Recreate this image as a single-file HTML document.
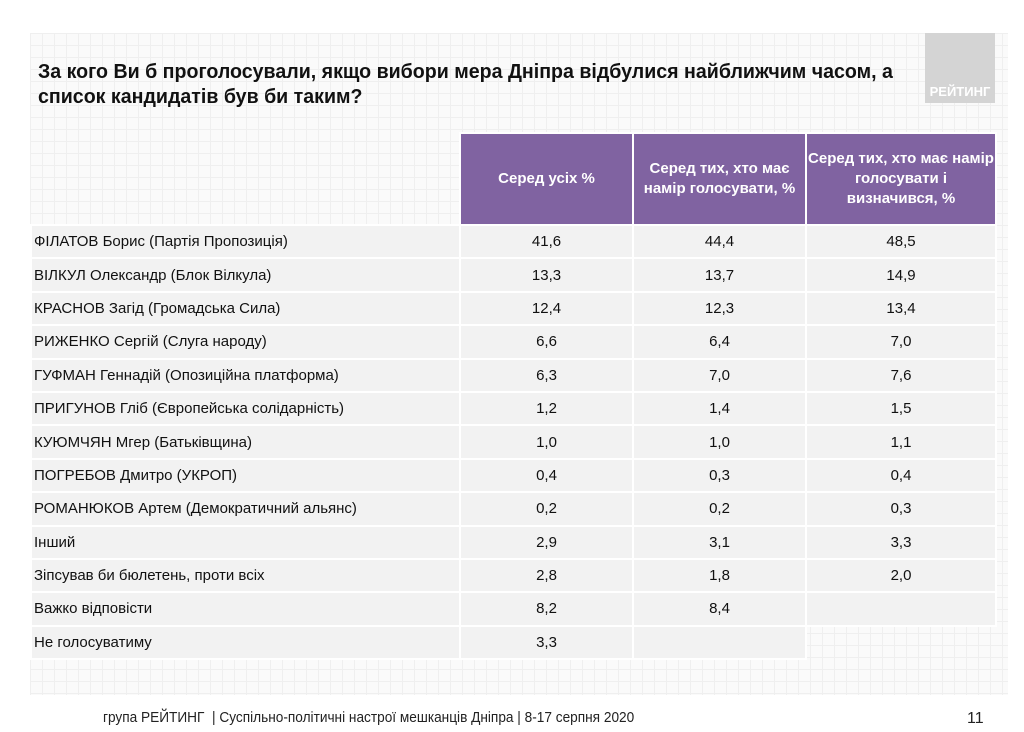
<!DOCTYPE html>
<html><head><meta charset="utf-8"><style>
body{margin:0;width:1024px;height:732px;background:#fff;position:relative;overflow:hidden;font-family:"Liberation Sans",sans-serif;}
.bg{position:absolute;left:30px;top:33px;width:978px;height:662px;background-color:#fafafa;
background-image:linear-gradient(#efefef 1px,transparent 1px),linear-gradient(90deg,#efefef 1px,transparent 1px);background-size:12px 12px;}
.title{position:absolute;left:38px;top:60px;font-size:20px;font-weight:bold;line-height:25px;color:#111;transform:scaleX(0.98);transform-origin:left top;white-space:nowrap;}
.logo{position:absolute;left:925px;top:33px;width:70px;height:70px;background:#d4d4d4;color:#fff;font-weight:bold;font-size:13px;text-align:center;}
.logo span{position:absolute;bottom:4px;left:0;right:0;}
table{position:absolute;left:30px;top:132px;border-collapse:collapse;}
td{padding:0;font-size:15px;color:#111;border:2px solid #fff;}
th{background:#8063a1;color:#fff;font-size:15px;font-weight:bold;height:88px;border:2px solid #fff;line-height:20px;}
tr.r td{height:31.4px;background:#f2f2f2;}
td.n{text-align:center}
td.l{padding-left:2px}
td.e{background:transparent!important}
.foot{position:absolute;left:103px;top:709px;font-size:15px;color:#222;transform:scaleX(0.91);transform-origin:left top;white-space:nowrap;}
.pg{position:absolute;left:967px;top:710px;font-size:16px;color:#222;}
</style></head><body>
<div class="bg"></div>
<div class="title">За кого Ви б проголосували, якщо вибори мера Дніпра відбулися найближчим часом, а<br>список кандидатів був би таким?</div>
<div class="logo"><span>РЕЙТИНГ</span></div>
<table>
<tr><td class="e" style="width:428px;border:none"></td><th style="width:169px">Серед усіх %</th><th style="width:169px">Серед тих, хто має<br>намір голосувати, %</th><th style="width:186px">Серед тих, хто має намір<br>голосувати і<br>визначився, %</th></tr>
<tr class="r"><td class="l">ФІЛАТОВ Борис (Партія Пропозиція)</td><td class="n">41,6</td><td class="n">44,4</td><td class="n">48,5</td></tr>
<tr class="r"><td class="l">ВІЛКУЛ Олександр (Блок Вілкула)</td><td class="n">13,3</td><td class="n">13,7</td><td class="n">14,9</td></tr>
<tr class="r"><td class="l">КРАСНОВ Загід (Громадська Сила)</td><td class="n">12,4</td><td class="n">12,3</td><td class="n">13,4</td></tr>
<tr class="r"><td class="l">РИЖЕНКО Сергій (Слуга народу)</td><td class="n">6,6</td><td class="n">6,4</td><td class="n">7,0</td></tr>
<tr class="r"><td class="l">ГУФМАН Геннадій (Опозиційна платформа)</td><td class="n">6,3</td><td class="n">7,0</td><td class="n">7,6</td></tr>
<tr class="r"><td class="l">ПРИГУНОВ Гліб (Європейська солідарність)</td><td class="n">1,2</td><td class="n">1,4</td><td class="n">1,5</td></tr>
<tr class="r"><td class="l">КУЮМЧЯН Мгер (Батьківщина)</td><td class="n">1,0</td><td class="n">1,0</td><td class="n">1,1</td></tr>
<tr class="r"><td class="l">ПОГРЕБОВ Дмитро (УКРОП)</td><td class="n">0,4</td><td class="n">0,3</td><td class="n">0,4</td></tr>
<tr class="r"><td class="l">РОМАНЮКОВ Артем (Демократичний альянс)</td><td class="n">0,2</td><td class="n">0,2</td><td class="n">0,3</td></tr>
<tr class="r"><td class="l">Інший</td><td class="n">2,9</td><td class="n">3,1</td><td class="n">3,3</td></tr>
<tr class="r"><td class="l">Зіпсував би бюлетень, проти всіх</td><td class="n">2,8</td><td class="n">1,8</td><td class="n">2,0</td></tr>
<tr class="r"><td class="l">Важко відповісти</td><td class="n">8,2</td><td class="n">8,4</td><td class="n"></td></tr>
<tr class="r"><td class="l">Не голосуватиму</td><td class="n">3,3</td><td class="n"></td><td class="e" style="border:none"></td></tr>
</table>
<div class="foot">група РЕЙТИНГ &nbsp;| Суспільно-політичні настрої мешканців Дніпра | 8-17 серпня 2020</div>
<div class="pg">11</div>
</body></html>
